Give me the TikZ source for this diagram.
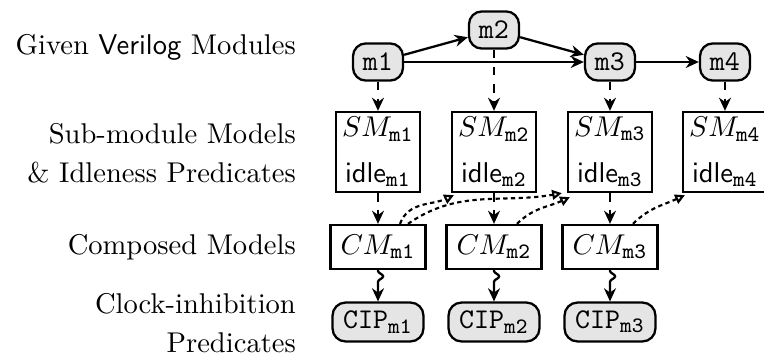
\documentclass[tikz,border=0pt]{standalone}
\usetikzlibrary{arrows.meta,decorations.pathmorphing,calc}
% module-name subscript in typewriter type
\newcommand\modsub[1]{_{\mbox{\fontsize{7.7}{8}\selectfont\ttfamily #1}}}
\begin{document}
\begin{tikzpicture}[x=0.35pt,y=-0.35pt,
  line width=0.8pt,
  nodefont/.style={font=\fontsize{9.6}{12}\selectfont},
  modbox/.style={draw,rounded corners=4.5pt,fill=black!10,minimum width=17.5pt,minimum height=13pt,inner sep=1pt,font=\ttfamily},
  smbox/.style={draw,minimum width=29.4pt,minimum height=28pt,inner sep=1pt,align=center,nodefont},
  cmbox/.style={draw,minimum width=33.2pt,minimum height=15.4pt,inner sep=1pt,nodefont},
  cipbox/.style={draw,rounded corners=4.5pt,fill=black!10,minimum width=31.8pt,minimum height=13.6pt,inner sep=1pt},
  lbl/.style={anchor=east,align=right,inner sep=0pt},
  flow/.style={-{Stealth[length=4.6pt,width=4.2pt]}},
  dflow/.style={flow,dashed},
  wiggle/.style={decoration={snake,amplitude=1.8pt,segment length=6pt,pre length=0.3pt,post length=0.3pt}},
  uflow/.style={-{Triangle[open,length=3.4pt,width=3.4pt]},line width=0.75pt,dash pattern=on 1.5pt off 1.2pt},
]
\useasboundingbox (0,0) rectangle (764,354);

% row labels
\node[lbl] (l1) at (297,47) {Given \textsf{Verilog} Modules};
\node[lbl] (l2) at (297,153) {Sub-module Models\\[1.5pt]\& Idleness Predicates};
\node[lbl] (l3) at (297,247) {Composed Models};
\node[lbl] (l4) at (297,323) {Clock-inhibition\\[1.5pt]Predicates};

% modules
\node[modbox] (m1) at (378,62) {m1};
\node[modbox] (m2) at (494,30) {m2};
\node[modbox] (m3) at (610,62) {m3};
\node[modbox] (m4) at (725,62) {m4};

% sub-module models and idleness predicates
\foreach \i/\x in {1/378,2/494,3/610,4/725}
  \node[smbox] (sm\i) at (\x,152) {$SM\modsub{m\i}$\\[4pt]$\mathsf{idle}\modsub{m\i}$};

% composed models
\foreach \i/\x in {1/378,2/494,3/610}
  \node[cmbox] (cm\i) at (\x,247) {$CM\modsub{m\i}$};

% clock-inhibition predicates
\foreach \i/\x in {1/378,2/494,3/610}
  \node[cipbox] (cip\i) at (\x,322) {\texttt{CIP}$\modsub{m\i}$};

% module hierarchy
\draw[flow] (m1) -- (m2);
\draw[flow] (m2) -- (m3);
\draw[flow] (m1) -- (m3);
\draw[flow] (m3) -- (m4);

% model extraction and composition
\foreach \i in {1,2,3,4}
  \draw[dflow] (m\i) -- (sm\i);
\foreach \i in {1,2,3} {
  \draw[dflow] (sm\i) -- (cm\i);
  \draw[flow] (cm\i.south) decorate[wiggle] {-- ($(cip\i.north)+(0,-14)$)} -- (cip\i.north);
}

% idleness predicates used by the composed models
\draw[uflow] ($(cm1.north)+(22,0)$) to[out=70,in=205] ($(sm2.south west)+(3,2)$);
\draw[uflow] ($(cm1.north)+(30,0)$) to[out=35,in=190] ($(sm3.south west)+(-5,0)$);
\draw[uflow] ($(cm2.north)+(23,0)$) to[out=45,in=205] ($(sm3.south west)+(3,4)$);
\draw[uflow] ($(cm3.north)+(23,0)$) to[out=45,in=205] ($(sm4.south west)+(3,2)$);
\end{tikzpicture}
\end{document}
